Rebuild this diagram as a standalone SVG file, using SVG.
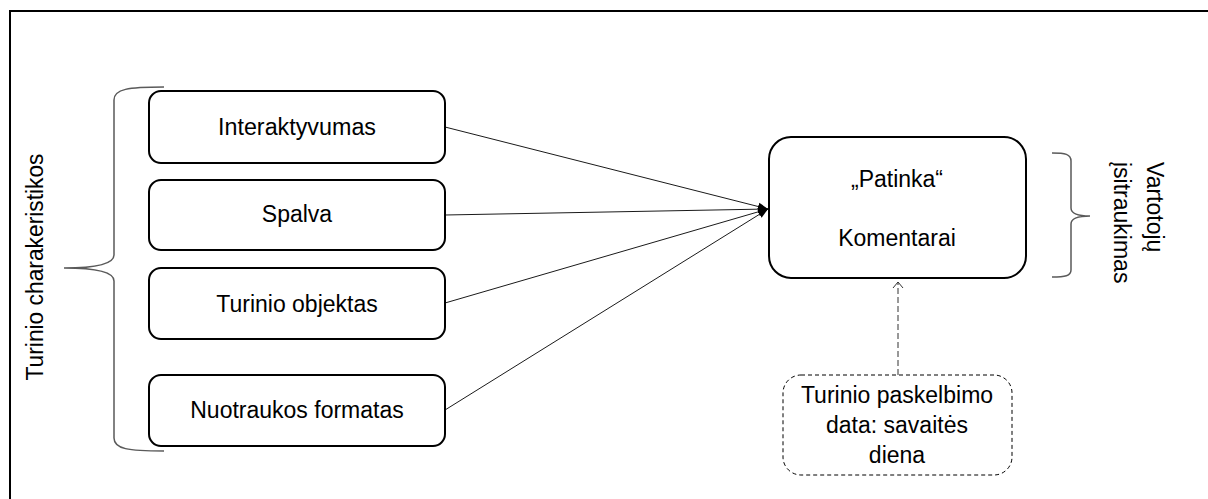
<svg xmlns="http://www.w3.org/2000/svg" width="1208" height="499" viewBox="0 0 1208 499">
  <style>
    .box { fill: #ffffff; stroke: #000000; stroke-width: 2; }
    .dbox { fill: #ffffff; stroke: #000000; stroke-width: 1; stroke-dasharray: 4 3; }
    .lbl { font-family: "Liberation Sans", Arial, sans-serif; font-size: 23px; fill: #000000; text-anchor: middle; }
    .side { font-family: "Liberation Sans", Arial, sans-serif; font-size: 23px; fill: #000000; }
    .brace { fill: none; stroke: #5a5a5a; stroke-width: 1.5; }
    .conn { fill: none; stroke: #1a1a1a; stroke-width: 1; }
    .dconn { fill: none; stroke: #333333; stroke-width: 1; stroke-dasharray: 6 3; }
  </style>
  <defs>
    <marker id="arrowFilled" viewBox="0 0 10 10" refX="10" refY="5" markerWidth="10" markerHeight="10" markerUnits="userSpaceOnUse" orient="auto">
      <path d="M0,1 L10,5 L0,9 Z" fill="#000000"/>
    </marker>
  </defs>

  <rect width="1208" height="499" fill="#ffffff"/>

  <!-- frame: only top and left edges fall inside the canvas -->
  <path d="M10,499 L10,11 L1208,11" fill="none" stroke="#000000" stroke-width="2"/>

  <!-- connectors -->
  <g id="connectors">
    <line class="conn" x1="445" y1="127" x2="768" y2="209" marker-end="url(#arrowFilled)"/>
    <line class="conn" x1="445" y1="215" x2="768" y2="209" marker-end="url(#arrowFilled)"/>
    <line class="conn" x1="445" y1="303" x2="768" y2="209" marker-end="url(#arrowFilled)"/>
    <line class="conn" x1="445" y1="410" x2="768" y2="209" marker-end="url(#arrowFilled)"/>
    <line class="dconn" x1="898" y1="375" x2="898" y2="282"/>
    <path d="M893,288 L898,282 L903,288" fill="none" stroke="#333333" stroke-width="1"/>
  </g>

  <!-- left brace and label -->
  <g id="content-characteristics">
    <path class="brace" d="M164,87 C128,87 114,89 114,100 L114,255 C114,264 98,268 64,268 C98,268 114,272 114,281 L114,438 C114,449 128,451 164,451"/>
    <text class="side" text-anchor="middle" transform="translate(43,267) rotate(-90)" textLength="227" lengthAdjust="spacingAndGlyphs">Turinio charakeristikos</text>
  </g>

  <g id="node-interaktyvumas">
    <rect class="box" x="149" y="91" width="296" height="72" rx="12" ry="12"/>
    <text class="lbl" x="297" y="135" textLength="158" lengthAdjust="spacingAndGlyphs">Interaktyvumas</text>
  </g>

  <g id="node-spalva">
    <rect class="box" x="149" y="180" width="296" height="70" rx="12" ry="12"/>
    <text class="lbl" x="297" y="222">Spalva</text>
  </g>

  <g id="node-turinio-objektas">
    <rect class="box" x="149" y="268" width="296" height="71" rx="12" ry="12"/>
    <text class="lbl" x="297" y="312">Turinio objektas</text>
  </g>

  <g id="node-nuotraukos-formatas">
    <rect class="box" x="149" y="375" width="296" height="71" rx="12" ry="12"/>
    <text class="lbl" x="297" y="418">Nuotraukos formatas</text>
  </g>

  <g id="node-engagement">
    <rect class="box" x="769" y="137" width="257" height="141" rx="22" ry="22"/>
    <text class="lbl" x="897" y="187">„Patinka“</text>
    <text class="lbl" x="897" y="246">Komentarai</text>
  </g>

  <!-- right brace and label -->
  <g id="user-engagement">
    <path class="brace" d="M1052,153 C1065,153 1071,154 1071,161 L1071,208 C1071,213 1078,216 1090,216 C1078,216 1071,219 1071,224 L1071,270 C1071,276 1065,277 1052,277"/>
    <text class="side" transform="translate(1147,162) rotate(90)">Vartotojų</text>
    <text class="side" transform="translate(1114,162) rotate(90)">įsitraukimas</text>
  </g>

  <g id="node-publication-date">
    <rect class="dbox" x="783" y="375" width="229" height="100" rx="18" ry="18"/>
    <text class="lbl" x="897" y="403">Turinio paskelbimo</text>
    <text class="lbl" x="897" y="433">data: savaitės</text>
    <text class="lbl" x="897" y="463">diena</text>
  </g>
</svg>
